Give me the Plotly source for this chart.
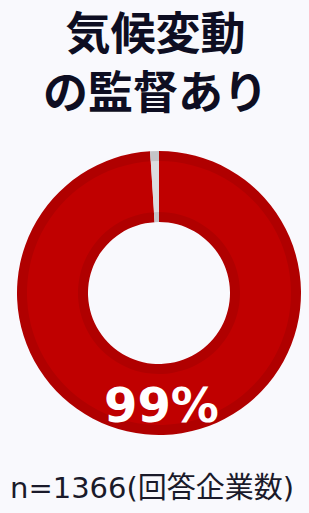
import plotly.graph_objects as go

labels = ["あり", "なし"]
values = [99, 1]
center_label = "99%"
title_lines = ["気候変動", "の監督あり"]
footnote = "n=1366(回答企業数)"

W, H = 309, 513
cx, cy = 159, 293
r_out, r_in = 142, 71
band = 10

def dom(r):
    return dict(x=[(cx - r) / W, (cx + r) / W],
                y=[(H - cy - r) / H, (H - cy + r) / H])

fig = go.Figure()
fig.add_trace(go.Pie(
    labels=labels, values=values, hole=r_in / r_out, sort=False,
    direction="clockwise", rotation=0, textinfo="none", hoverinfo="skip",
    marker=dict(colors=["#b00000", "#c4c4c8"], line=dict(color="#ffffff", width=0)),
    domain=dom(r_out), showlegend=False))
fig.add_trace(go.Pie(
    labels=labels, values=values, hole=(r_in + band) / (r_out - band), sort=False,
    direction="clockwise", rotation=0, textinfo="none", hoverinfo="skip",
    marker=dict(colors=["#c00000", "#dcdce0"], line=dict(color="#ffffff", width=0)),
    domain=dom(r_out - band), showlegend=False))

fig.add_annotation(text="<b>" + center_label + "</b>", x=161 / W, y=1 - 405 / H,
                   xref="paper", yref="paper", showarrow=False,
                   font=dict(family="DejaVu Sans", size=48, color="#ffffff"),
                   xanchor="center", yanchor="middle")
fig.add_annotation(text="<b>" + "<br>".join(title_lines) + "</b>", x=155 / W, y=1 - 60 / H,
                   xref="paper", yref="paper", showarrow=False,
                   font=dict(family="Noto Sans CJK JP", size=45, color="#0e0e22"),
                   xanchor="center", yanchor="middle")
fig.add_annotation(text=footnote, x=152 / W, y=1 - 488 / H, xref="paper", yref="paper",
                   showarrow=False,
                   font=dict(family="DejaVu Sans, Noto Sans CJK JP", size=29, color="#1a1a2a"),
                   xanchor="center", yanchor="middle")

fig.update_layout(width=W, height=H, margin=dict(l=0, r=0, t=0, b=0),
                  paper_bgcolor="#f9f9fd", plot_bgcolor="#f9f9fd")
fig.write_html("out.html", config={"displayModeBar": False},
               post_script="document.body.style.margin='0';document.body.style.background='#f9f9fd';")
